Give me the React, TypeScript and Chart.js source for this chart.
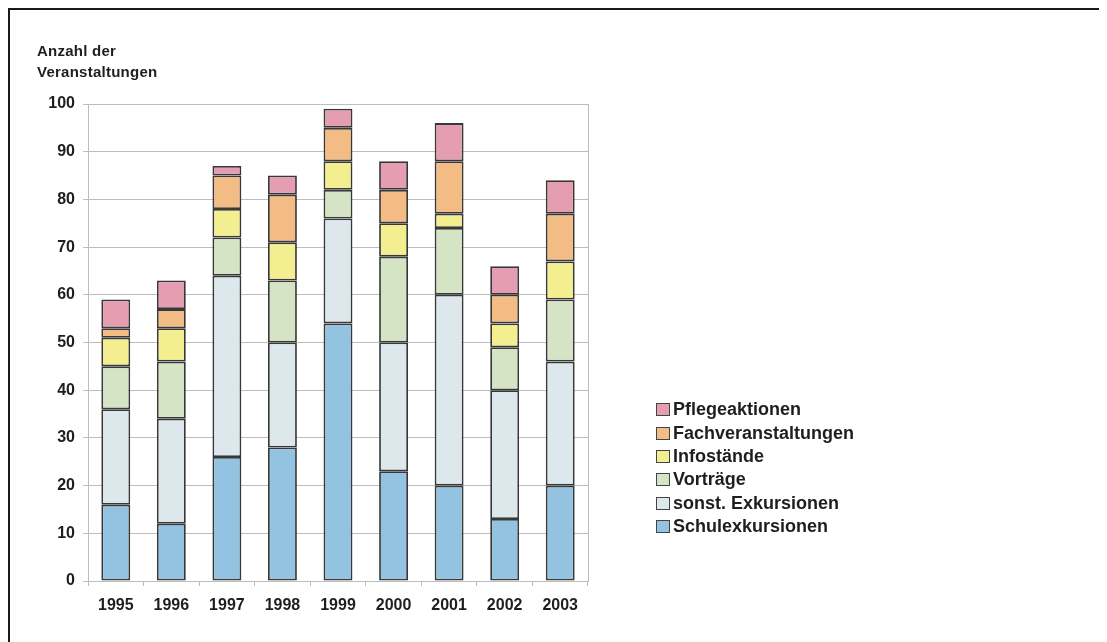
import React, { useEffect, useRef } from "react";
import { Chart, registerables } from "chart.js";

Chart.register(...registerables);

const years = ["1995", "1996", "1997", "1998", "1999", "2000", "2001", "2002", "2003"];
const schulexkursionen = [16, 12, 26, 28, 54, 23, 20, 13, 20];
const sonstExkursionen = [20, 22, 38, 22, 22, 27, 40, 27, 26];
const vortraege = [9, 12, 8, 13, 6, 18, 14, 9, 13];
const infostaende = [6, 7, 6, 8, 6, 7, 3, 5, 8];
const fachveranstaltungen = [2, 4, 7, 10, 7, 7, 11, 6, 10];
const pflegeaktionen = [6, 6, 2, 4, 4, 6, 8, 6, 7];
const yTicks = [0, 10, 20, 30, 40, 50, 60, 70, 80, 90, 100];

const seriesNames = [
  "Schulexkursionen",
  "sonst. Exkursionen",
  "Vorträge",
  "Infostände",
  "Fachveranstaltungen",
  "Pflegeaktionen",
];
const seriesData = [schulexkursionen, sonstExkursionen, vortraege, infostaende, fachveranstaltungen, pflegeaktionen];
const seriesColors = ["#94c3e1", "#dce8eb", "#d6e4c6", "#f3ee90", "#f2bc84", "#e59db2"];

const FONT = '"Liberation Sans", Arial, Helvetica, sans-serif';
const TEXT = "#1e1e1e";
const GRID = "#bdbdbd";

const plotBorder = {
  id: "plotBorder",
  beforeDatasetsDraw(chart: any) {
    const { ctx, chartArea } = chart;
    ctx.save();
    ctx.strokeStyle = GRID;
    ctx.lineWidth = 1;
    ctx.beginPath();
    ctx.moveTo(Math.round(chartArea.right) + 0.5, chartArea.top);
    ctx.lineTo(Math.round(chartArea.right) + 0.5, chartArea.bottom);
    ctx.stroke();
    ctx.restore();
  },
};

export default function App() {
  const canvasRef = useRef<HTMLCanvasElement>(null);

  useEffect(() => {
    if (!canvasRef.current) return;
    const chart = new Chart(canvasRef.current, {
      type: "bar",
      data: {
        labels: years,
        datasets: seriesNames.map((name, i) => ({
          label: name,
          data: seriesData[i],
          backgroundColor: seriesColors[i],
          borderColor: "#383838",
          borderWidth: 1.8,
          borderSkipped: false,
          barPercentage: 0.52,
          categoryPercentage: 1,
        })),
      },
      options: {
        animation: false,
        responsive: false,
        maintainAspectRatio: false,
        layout: { padding: { left: 0, top: 94, right: 519, bottom: 0 } },
        plugins: {
          legend: { display: false },
          tooltip: { enabled: false },
          title: { display: false },
        },
        scales: {
          x: {
            stacked: true,
            afterFit: (s: any) => {
              s.height = 61;
            },
            grid: {
              display: true,
              offset: true,
              drawOnChartArea: false,
              drawTicks: true,
              tickLength: 5,
              color: GRID,
            },
            border: { display: true, color: GRID },
            ticks: {
              padding: 10,
              color: TEXT,
              font: { family: FONT, size: 16, weight: "bold" },
            },
          },
          y: {
            stacked: true,
            min: 0,
            max: 100,
            afterFit: (s: any) => {
              s.width = 78;
            },
            afterBuildTicks: (s: any) => {
              s.ticks = yTicks.map((v) => ({ value: v }));
            },
            grid: {
              color: GRID,
              tickLength: 5,
              drawTicks: true,
            },
            border: { display: true, color: GRID },
            ticks: {
              padding: 8,
              color: TEXT,
              font: { family: FONT, size: 16, weight: "bold" },
            },
          },
        },
      },
      plugins: [plotBorder],
    });
    return () => chart.destroy();
  }, []);

  const legendItems = seriesNames.map((n, i) => ({ name: n, color: seriesColors[i] })).reverse();

  return (
    <div
      style={{
        position: "relative",
        boxSizing: "border-box",
        width: 1099,
        height: 634,
        borderTop: "2px solid #1a1a1a",
        borderLeft: "2px solid #1a1a1a",
        background: "#ffffff",
        fontFamily: FONT,
        overflow: "hidden",
      }}
    >
      <canvas
        ref={canvasRef}
        width={1097}
        height={632}
        style={{ position: "absolute", left: 0, top: 0, width: 1097, height: 632 }}
      />
      <div
        style={{
          position: "absolute",
          left: 27,
          top: 30,
          fontSize: 15,
          letterSpacing: "0.25px",
          lineHeight: "21px",
          fontWeight: "bold",
          color: TEXT,
        }}
      >
        <div>Anzahl der</div>
        <div>Veranstaltungen</div>
      </div>
      <div style={{ position: "absolute", left: 646, top: 388, color: TEXT }}>
        {legendItems.map((it) => (
          <div
            key={it.name}
            style={{
              display: "flex",
              alignItems: "center",
              height: 23.4,
              fontSize: 18,
              fontWeight: "bold",
              whiteSpace: "nowrap",
            }}
          >
            <span
              style={{
                display: "inline-block",
                boxSizing: "border-box",
                width: 14,
                height: 13,
                background: it.color,
                border: "1px solid #444",
                marginRight: 3,
              }}
            />
            <span>{it.name}</span>
          </div>
        ))}
      </div>
    </div>
  );
}
